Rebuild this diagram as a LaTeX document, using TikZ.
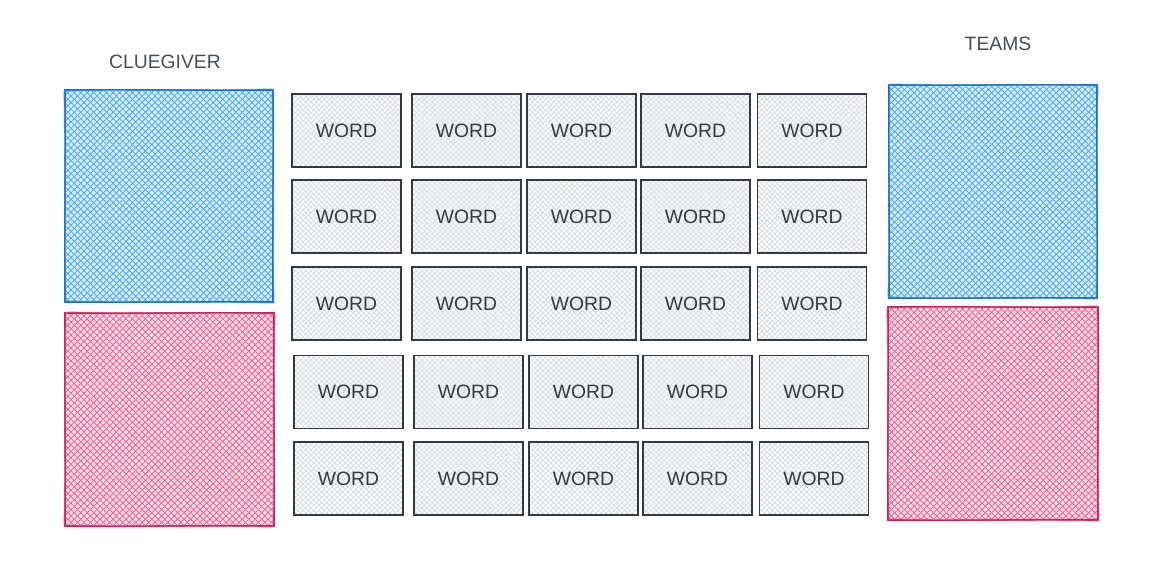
\documentclass[tikz,border=0pt]{standalone}
\usepackage{fontspec}
\setmainfont{Liberation Sans}
\usepackage{xcolor}
\usepackage{tikz}
\usetikzlibrary{patterns,patterns.meta}
\definecolor{bleuBord}{HTML}{1971C2}
\definecolor{bleuHach}{HTML}{4DABF7}
\definecolor{roseBord}{HTML}{C2255C}
\definecolor{roseHach}{HTML}{F06595}
\definecolor{encre}{HTML}{343A40}
\definecolor{grisHach}{HTML}{CED4DA}

\begin{document}
\begin{tikzpicture}[x=0.02cm,y=-0.02cm,
  hachures/.style={preaction={fill=#1!22},
    preaction={pattern={Lines[angle=45,distance=2.6pt,line width=0.5pt]},pattern color=#1},
    pattern={Lines[angle=-45,distance=2.6pt,line width=0.5pt]},pattern color=#1},
  carte/.style={draw=encre,line width=0.8pt,minimum width=2.18cm,minimum height=1.46cm,
    preaction={fill=gray!3},pattern=crosshatch,pattern color=grisHach!80,
    font=\fontsize{11}{13}\selectfont,text=encre},
  titre/.style={font=\fontsize{11}{13}\selectfont,text=encre!90}]
  \useasboundingbox (0,0) rectangle (1174,587);
  % titres
  \node[titre] (cluegiver) at (165,62) {CLUEGIVER};
  \node[titre] (teams) at (998,44) {TEAMS};
  % carrés de gauche
  \fill[hachures=bleuHach] (65,90) rectangle (273,302);
  \draw[bleuBord,line width=0.9pt] (65,90) rectangle (273,302);
  \draw[bleuBord!70,line width=0.4pt] (64,91) -- (272,89) -- (274,303) -- (66,301) -- cycle;
  \fill[hachures=roseHach] (65,313) rectangle (274,526);
  \draw[roseBord,line width=0.9pt] (65,313) rectangle (274,526);
  \draw[roseBord!70,line width=0.4pt] (66,312) -- (275,314) -- (273,527) -- (64,525) -- cycle;
  % carrés de droite
  \fill[hachures=bleuHach] (889,85) rectangle (1097,298);
  \draw[bleuBord,line width=0.9pt] (889,85) rectangle (1097,298);
  \draw[bleuBord!70,line width=0.4pt] (890,84) -- (1098,86) -- (1096,299) -- (888,297) -- cycle;
  \fill[hachures=roseHach] (888,307) rectangle (1098,520);
  \draw[roseBord,line width=0.9pt] (888,307) rectangle (1098,520);
  \draw[roseBord!70,line width=0.4pt] (887,308) -- (1097,306) -- (1099,521) -- (889,519) -- cycle;
  % grille des mots
  \foreach \y/\d [count=\r] in {130.5/0,216.5/0,303.5/0,392/2,478.5/2}
    \foreach \x [count=\c] in {346.5,466.5,581.5,695.5,812}
      \node[carte] (mot-\r-\c) at (\x+\d,\y) {WORD};
\end{tikzpicture}
\end{document}
